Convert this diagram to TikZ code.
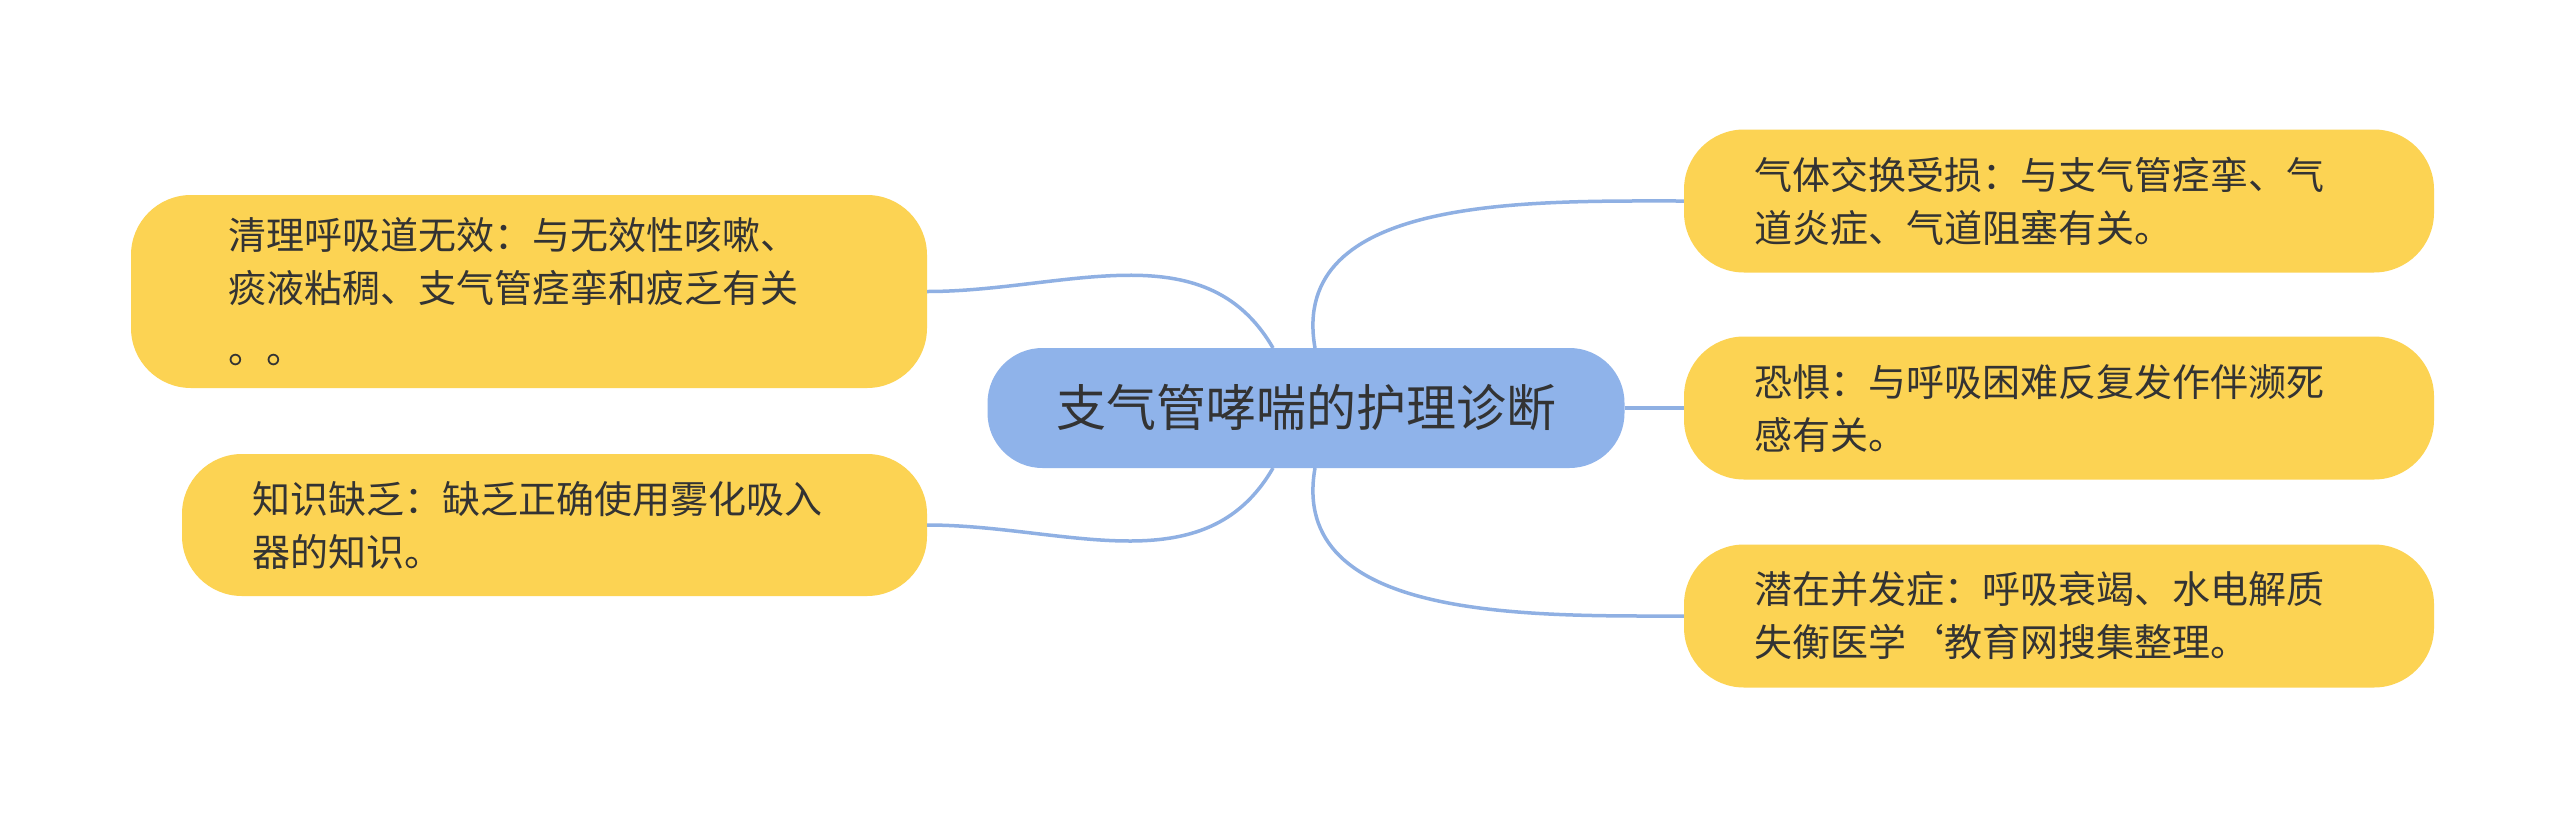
\documentclass[tikz,border=0pt]{standalone}
\usepackage{fontspec}
\setmainfont{Noto Sans CJK SC}
\definecolor{yel}{HTML}{FCD353}
\definecolor{blu}{HTML}{8FB3EA}
\definecolor{lin}{HTML}{8FB0E3}
\definecolor{txt}{HTML}{333333}
\begin{document}
\begin{tikzpicture}[x=1pt,y=-1pt,
  leaf/.style={fill=yel,rounded corners=60pt,inner sep=0pt,align=left,text=txt,font=\fontsize{38}{53}\selectfont},
  root/.style={fill=blu,rounded corners=55pt,inner sep=0pt,text=txt,font=\fontsize{50}{60}\selectfont,minimum width=637pt,minimum height=120pt},
  con/.style={draw=lin,line width=3.5pt}]
\useasboundingbox[fill=white] (0,0) rectangle (2560,817);
\node[root] (c) at (1306,408) {支气管哮喘的护理诊断};
\node[leaf,minimum width=796pt,minimum height=193pt,text width=602pt] (l1) at (529,291.5)
 {清理呼吸道无效：与无效性咳嗽、\\痰液粘稠、支气管痉挛和疲乏有关\\[8pt]。。};
\node[leaf,minimum width=745pt,minimum height=142pt,text width=605pt] (l2) at (554.5,525)
 {知识缺乏：缺乏正确使用雾化吸入\\器的知识。};
\node[leaf,minimum width=750pt,minimum height=143pt,text width=610pt] (r1) at (2059,201)
 {气体交换受损：与支气管痉挛、气\\道炎症、气道阻塞有关。};
\node[leaf,minimum width=750pt,minimum height=143pt,text width=610pt] (r2) at (2059,408)
 {恐惧：与呼吸困难反复发作伴濒死\\感有关。};
\node[leaf,minimum width=750pt,minimum height=143pt,text width=610pt] (r3) at (2059,616)
 {潜在并发症：呼吸衰竭、水电解质\\失衡医学`教育网搜集整理。};
\coordinate (ctl) at (1273,348); \coordinate (cbl) at (1273,468);
\coordinate (ctr) at (1315,348); \coordinate (cbr) at (1315,468);
\begin{scope}[on background layer/.style={}]
\draw[con] (l1.east) to[out=0,in=120] (ctl);
\draw[con] (l2.east) to[out=0,in=-120] (cbl);
\draw[con] (ctr) to[out=100,in=180] (r1.west);
\draw[con] (c.east) -- (r2.west);
\draw[con] (cbr) to[out=-100,in=180] (r3.west);
\end{scope}
\end{tikzpicture}
\end{document}
